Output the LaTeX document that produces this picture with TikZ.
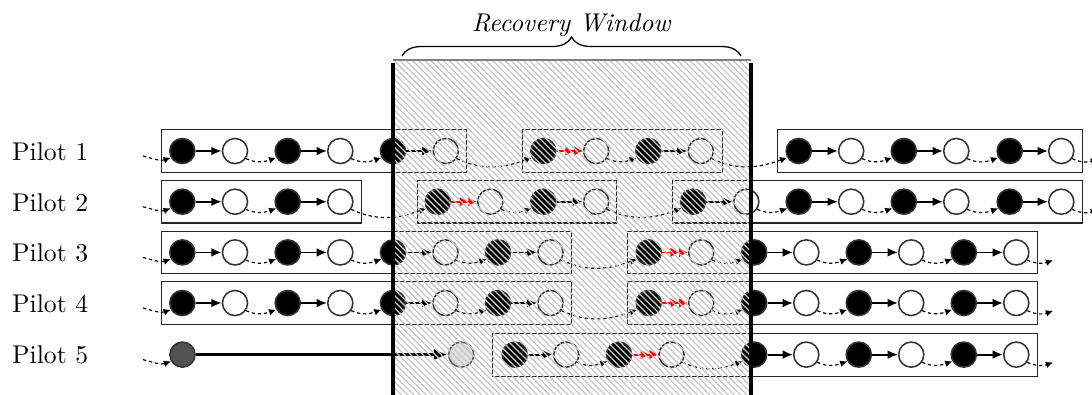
\documentclass[tikz,border=0pt]{standalone}
\usetikzlibrary{arrows.meta,patterns.meta,decorations.pathreplacing}
\begin{document}
\begin{tikzpicture}[x=0.39pt,y=-0.39pt,
  circ/.style={circle, minimum size=9.8pt, inner sep=0pt, line width=0.6pt, draw=black!80},
  bk/.style={circ, fill=black},
  wt/.style={circ, fill=white},
  gy/.style={circ, fill=black!68},
  lg/.style={circ, fill=black!12, draw=black!65},
  boxr/.style={draw=black!85, line width=0.5pt},
  flow/.style={line width=0.7pt, -{Latex[length=4pt,width=3.4pt]}},
  redflow/.style={red, line width=0.7pt, -{Latex[length=3.4pt,width=3.8pt]Latex[length=3.4pt,width=3.8pt]}},
  conn/.style={line width=0.45pt, dash pattern=on 1.3pt off 1.1pt, -{Latex[length=2.8pt,width=2.6pt]}, out=-25, in=200},
  lab/.style={anchor=base west, inner sep=0pt}
]
\useasboundingbox (0,0) rectangle (1092,394);
\clip (0,0) rectangle (1092,394);

% labels
\node[lab] (p1) at (11.7,160.3) {Pilot 1};
\node[lab] (p2) at (11.7,211.0) {Pilot 2};
\node[lab] (p3) at (11.7,261.7) {Pilot 3};
\node[lab] (p4) at (11.7,312.3) {Pilot 4};
\node[lab] (p5) at (11.7,363.9) {Pilot 5};

% ---------------- row 1 (y=151)
\node[bk] (b11) at (182.3,151) {}; \node[wt] (w11) at (235,151) {};
\node[bk] (b12) at (287.7,151) {}; \node[wt] (w12) at (340.3,151) {};
\node[bk] (b13) at (393,151) {};   \node[wt] (w13) at (445.8,151) {};
\node[bk] (b14) at (543.3,151) {}; \node[wt] (w14) at (596.2,151) {};
\node[bk] (b15) at (648.3,151) {}; \node[wt] (w15) at (700.8,151) {};
\node[bk] (b16) at (798.7,151) {}; \node[wt] (w16) at (851.2,151) {};
\node[bk] (b17) at (903.8,151) {}; \node[wt] (w17) at (956.3,151) {};
\node[bk] (b18) at (1009.7,151) {}; \node[wt] (w18) at (1061.3,151) {};
\coordinate (s1) at (143,156);
\coordinate (t1) at (1098,159);
\draw[boxr] (161.7,129.8) rectangle (466.7,172.2);
\draw[boxr] (522.7,129.8) rectangle (722.7,172.2);
\draw[boxr] (777.3,129.8) rectangle (1082.7,172.2);
\draw[conn,out=-15] (s1) to (b11.-150);
\draw[flow] (b11) -- (w11); \draw[conn] (w11.-35) to (b12.-150);
\draw[flow] (b12) -- (w12); \draw[conn] (w12.-35) to (b13.-150);
\draw[flow] (b13) -- (w13); \draw[conn] (w13.-35) to (b14.-150);
\draw[redflow] (b14) -- (w14); \draw[conn] (w14.-35) to (b15.-150);
\draw[flow] (b15) -- (w15); \draw[conn] (w15.-35) to (b16.-150);
\draw[flow] (b16) -- (w16); \draw[conn] (w16.-35) to (b17.-150);
\draw[flow] (b17) -- (w17); \draw[conn] (w17.-35) to (b18.-150);
\draw[flow] (b18) -- (w18); \draw[conn] (w18.-35) to (t1);

% ---------------- row 2 (y=201.7)
\node[bk] (b21) at (182.3,201.7) {}; \node[wt] (w21) at (235,201.7) {};
\node[bk] (b22) at (287.7,201.7) {}; \node[wt] (w22) at (340.3,201.7) {};
\node[bk] (b23) at (437.8,201.7) {}; \node[wt] (w23) at (490.3,201.7) {};
\node[bk] (b24) at (543.3,201.7) {}; \node[wt] (w24) at (596.2,201.7) {};
\node[bk] (b25) at (693,201.7) {};   \node[wt] (w25) at (746.3,201.7) {};
\node[bk] (b26) at (798.7,201.7) {}; \node[wt] (w26) at (851.2,201.7) {};
\node[bk] (b27) at (903.8,201.7) {}; \node[wt] (w27) at (956.3,201.7) {};
\node[bk] (b28) at (1009.7,201.7) {}; \node[wt] (w28) at (1061.3,201.7) {};
\coordinate (s2) at (143,206.7);
\coordinate (t2) at (1098,209.7);
\draw[boxr] (161.7,180.5) rectangle (361.7,222.9);
\draw[boxr] (417.3,180.5) rectangle (616.7,222.9);
\draw[boxr] (672.3,180.5) rectangle (1082.7,222.9);
\draw[conn,out=-15] (s2) to (b21.-150);
\draw[flow] (b21) -- (w21); \draw[conn] (w21.-35) to (b22.-150);
\draw[flow] (b22) -- (w22); \draw[conn] (w22.-35) to (b23.-150);
\draw[redflow] (b23) -- (w23); \draw[conn] (w23.-35) to (b24.-150);
\draw[flow] (b24) -- (w24); \draw[conn] (w24.-35) to (b25.-150);
\draw[flow] (b25) -- (w25); \draw[conn] (w25.-35) to (b26.-150);
\draw[flow] (b26) -- (w26); \draw[conn] (w26.-35) to (b27.-150);
\draw[flow] (b27) -- (w27); \draw[conn] (w27.-35) to (b28.-150);
\draw[flow] (b28) -- (w28); \draw[conn] (w28.-35) to (t2);

% ---------------- row 3 (y=252.4)
\node[bk] (b31) at (182.3,252.4) {}; \node[wt] (w31) at (235,252.4) {};
\node[bk] (b32) at (287.7,252.4) {}; \node[wt] (w32) at (340.3,252.4) {};
\node[bk] (b33) at (393,252.4) {};   \node[wt] (w33) at (445.5,252.4) {};
\node[bk] (b34) at (498,252.4) {};   \node[wt] (w34) at (550.5,252.4) {};
\node[bk] (b35) at (648.7,252.4) {}; \node[wt] (w35) at (701.2,252.4) {};
\node[bk] (b36) at (754.2,252.4) {}; \node[wt] (w36) at (806.3,252.4) {};
\node[bk] (b37) at (858.8,252.4) {}; \node[wt] (w37) at (911.2,252.4) {};
\node[bk] (b38) at (963.8,252.4) {}; \node[wt] (w38) at (1016.3,252.4) {};
\coordinate (s3) at (143,257.4);
\coordinate (t3) at (1053,260.2);
\draw[boxr] (161.7,231.2) rectangle (571.7,273.6);
\draw[boxr] (627.3,231.2) rectangle (1037.3,273.6);
\draw[conn,out=-15] (s3) to (b31.-150);
\draw[flow] (b31) -- (w31); \draw[conn] (w31.-35) to (b32.-150);
\draw[flow] (b32) -- (w32); \draw[conn] (w32.-35) to (b33.-150);
\draw[flow] (b33) -- (w33); \draw[conn] (w33.-35) to (b34.-150);
\draw[flow] (b34) -- (w34); \draw[conn] (w34.-35) to (b35.-150);
\draw[redflow] (b35) -- (w35); \draw[conn] (w35.-35) to (b36.-150);
\draw[flow] (b36) -- (w36); \draw[conn] (w36.-35) to (b37.-150);
\draw[flow] (b37) -- (w37); \draw[conn] (w37.-35) to (b38.-150);
\draw[flow] (b38) -- (w38); \draw[conn] (w38.-35) to (t3);

% ---------------- row 4 (y=303)
\node[bk] (b41) at (182.3,303) {}; \node[wt] (w41) at (235,303) {};
\node[bk] (b42) at (287.7,303) {}; \node[wt] (w42) at (340.3,303) {};
\node[bk] (b43) at (393,303) {};   \node[wt] (w43) at (445.5,303) {};
\node[bk] (b44) at (498,303) {};   \node[wt] (w44) at (550.5,303) {};
\node[bk] (b45) at (648.7,303) {}; \node[wt] (w45) at (701.2,303) {};
\node[bk] (b46) at (754.2,303) {}; \node[wt] (w46) at (806.3,303) {};
\node[bk] (b47) at (858.8,303) {}; \node[wt] (w47) at (911.2,303) {};
\node[bk] (b48) at (963.8,303) {}; \node[wt] (w48) at (1016.3,303) {};
\coordinate (s4) at (143,308);
\coordinate (t4) at (1053,310.8);
\draw[boxr] (161.7,281.8) rectangle (571.7,324.2);
\draw[boxr] (627.3,281.8) rectangle (1037.3,324.2);
\draw[conn,out=-15] (s4) to (b41.-150);
\draw[flow] (b41) -- (w41); \draw[conn] (w41.-35) to (b42.-150);
\draw[flow] (b42) -- (w42); \draw[conn] (w42.-35) to (b43.-150);
\draw[flow] (b43) -- (w43); \draw[conn] (w43.-35) to (b44.-150);
\draw[flow] (b44) -- (w44); \draw[conn] (w44.-35) to (b45.-150);
\draw[redflow] (b45) -- (w45); \draw[conn] (w45.-35) to (b46.-150);
\draw[flow] (b46) -- (w46); \draw[conn] (w46.-35) to (b47.-150);
\draw[flow] (b47) -- (w47); \draw[conn] (w47.-35) to (b48.-150);
\draw[flow] (b48) -- (w48); \draw[conn] (w48.-35) to (t4);

% ---------------- row 5 (y=354.6)
\node[gy] (g5) at (182.5,354.6) {};
\node[lg] (l5) at (461.2,354.6) {};
\node[bk] (b51) at (514.7,354.6) {}; \node[wt] (w51) at (566.3,354.6) {};
\node[bk] (b52) at (619,354.6) {};   \node[wt] (w52) at (671.5,354.6) {};
\node[bk] (b53) at (754.2,354.6) {}; \node[wt] (w53) at (806.3,354.6) {};
\node[bk] (b54) at (858.8,354.6) {}; \node[wt] (w54) at (911.2,354.6) {};
\node[bk] (b55) at (963.8,354.6) {}; \node[wt] (w55) at (1016.3,354.6) {};
\coordinate (s5) at (143,359.6);
\coordinate (t5) at (1053,362.4);
\draw[boxr] (492.7,333.4) rectangle (1037.3,376.2);
\draw[conn,out=-15] (s5) to (g5.-150);
\draw[line width=1.4pt, -{Latex[length=5.5pt,width=4.6pt]}] (g5) -- (l5);
\draw[flow] (b51) -- (w51); \draw[conn] (w51.-35) to (b52.-150);
\draw[redflow] (b52) -- (w52); \draw[conn] (w52.-35) to (b53.-150);
\draw[flow] (b53) -- (w53); \draw[conn] (w53.-35) to (b54.-150);
\draw[flow] (b54) -- (w54); \draw[conn] (w54.-35) to (b55.-150);
\draw[flow] (b55) -- (w55); \draw[conn] (w55.-35) to (t5);

% ---------------- recovery window overlay
\fill[pattern={Lines[angle=-45,distance=1.7pt,line width=0.5pt]}, pattern color=black!22] (393,60) rectangle (751,400);
\draw[black!50, line width=0.4pt] (393,60) -- (751,60);
\draw[line width=1.3pt] (393,63) -- (393,400);
\draw[line width=1.3pt] (751,63) -- (751,400);

% brace + title
\draw[line width=0.5pt, decorate, decoration={brace, amplitude=7.4pt}] (402,56) -- (741,56);
\node[anchor=base, inner sep=0pt] (rw) at (571.5,31.7) {\textit{Recovery Window}};
\end{tikzpicture}
\end{document}
